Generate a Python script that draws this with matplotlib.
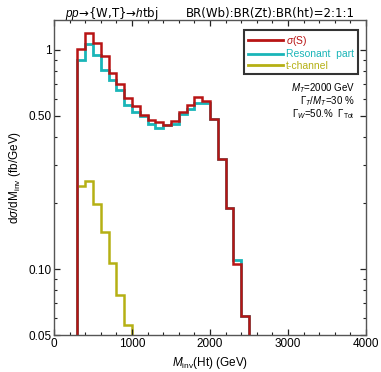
import numpy as np
import matplotlib
matplotlib.use("Agg")
import matplotlib.pyplot as plt
from matplotlib.ticker import FixedLocator, NullFormatter, FixedFormatter

# ---- data ----
bin_edges = np.arange(300, 2600, 100)  # 300 .. 2500
sigma_S = [1.01, 1.19, 1.074, 0.934, 0.784, 0.702, 0.603, 0.553, 0.507, 0.481,
           0.469, 0.453, 0.472, 0.521, 0.563, 0.610, 0.585, 0.483, 0.317, 0.189,
           0.105, 0.061]
resonant = [0.902, 1.059, 0.951, 0.812, 0.732, 0.654, 0.559, 0.521, 0.498, 0.461,
            0.442, 0.453, 0.461, 0.512, 0.540, 0.572, 0.572, 0.483, 0.317, 0.189,
            0.110, 0.061]
tchan_edges = np.arange(300, 1100, 100)  # 300 .. 1000
tchannel = [0.239, 0.2525, 0.199, 0.147, 0.107, 0.076, 0.0556]

x_major = [0, 1000, 2000, 3000, 4000]
y_major = [0.05, 0.10, 0.50, 1.0]
y_major_labels = ["0.05", "0.10", "0.50", "1"]

plt.rcParams['font.family'] = ['Liberation Sans', 'DejaVu Sans']
plt.rcParams['mathtext.fontset'] = 'custom'
plt.rcParams['mathtext.rm'] = 'Liberation Sans'
plt.rcParams['mathtext.it'] = 'Liberation Sans:italic'
plt.rcParams['mathtext.bf'] = 'Liberation Sans:bold'

fig = plt.figure(figsize=(3.81, 3.72), dpi=100)
ax = fig.add_axes([54/381, 1-335/372, 312/381, 315/372])

red = '#b81414'
cyan = '#1ab5b8'
yellow = '#b5b014'
base = 0.01
ax.stairs(tchannel, tchan_edges, baseline=base, color=yellow, lw=1.8)
ax.stairs(resonant, bin_edges, baseline=base, color=cyan, lw=2.0)
ax.stairs(sigma_S, bin_edges, baseline=base, color=red, lw=1.8)

ax.set_yscale('log')
ax.set_xlim(0, 4000)
ax.set_ylim(0.05, 1.37)

ax.xaxis.set_major_locator(FixedLocator(x_major))
ax.xaxis.set_minor_locator(FixedLocator(np.arange(0, 4001, 200)))
ax.yaxis.set_major_locator(FixedLocator(y_major))
ax.yaxis.set_major_formatter(FixedFormatter(y_major_labels))
minors = [0.06, 0.07, 0.08, 0.09, 0.2, 0.3, 0.4, 0.6, 0.7, 0.8, 0.9]
ax.yaxis.set_minor_locator(FixedLocator(minors))
ax.yaxis.set_minor_formatter(NullFormatter())

ax.tick_params(which='both', direction='in', top=True, right=True,
               labelsize=8.5, color='#222222', pad=2)
ax.tick_params(which='major', length=4, width=0.9)
ax.tick_params(which='minor', length=2.2, width=0.8)
for s in ax.spines.values():
    s.set_color('#555555')
    s.set_linewidth(1.0)

ax.set_xlabel(r'$M_{\rm inv}$(Ht) (GeV)', fontsize=8.5, labelpad=4)
ax.set_ylabel(r'd$\sigma$/dM$_{\rm inv}$ (fb/GeV)', fontsize=8.5, labelpad=4)

fig.text(65/381, 1-13/372, r'$pp$→{W,T}→$h$tbj', fontsize=8.5, va='center',
         ha='left', family=['DejaVu Sans'])
fig.text(355/381, 1-13/372, 'BR(Wb):BR(Zt):BR(ht)=2:1:1', fontsize=8.5,
         va='center', ha='right', family=['DejaVu Sans'])

leg = ax.legend([plt.Line2D([], [], color=red, lw=2),
                 plt.Line2D([], [], color=cyan, lw=2),
                 plt.Line2D([], [], color=yellow, lw=2)],
                [r'$\sigma$(S)', 'Resonant  part', 't-channel'],
                loc='upper right', bbox_to_anchor=(358/381, 1-30/372),
                bbox_transform=fig.transFigure, fontsize=7.5,
                frameon=True, fancybox=False, handlelength=3.4,
                handletextpad=0.3, borderpad=0.35, labelspacing=0.15,
                borderaxespad=0)
leg.get_frame().set_edgecolor('black')
leg.get_frame().set_linewidth(1.5)
for t, c in zip(leg.get_texts(), [red, cyan, yellow]):
    t.set_color(c)

fig.text(355/381, 1-88/372, r'$M_T$=2000 GeV', fontsize=7, ha='right', va='center')
fig.text(355/381, 1-101/372, r'$\Gamma_T/M_T$=30 %', fontsize=7, ha='right', va='center')
fig.text(355/381, 1-114/372, r'$\Gamma_W$=50.%  $\Gamma_{\rm Tot}$', fontsize=7, ha='right', va='center')

fig.savefig('out.png', dpi=100)
